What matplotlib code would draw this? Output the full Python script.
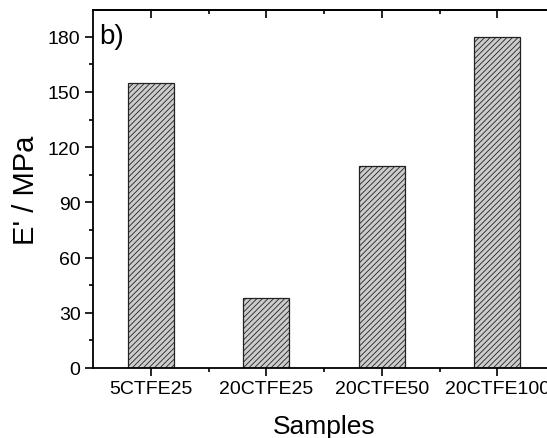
import matplotlib
matplotlib.use('Agg')
import matplotlib.pyplot as plt
from matplotlib.ticker import MultipleLocator

# data
samples = ['5CTFE25', '20CTFE25', '20CTFE50', '20CTFE100']
modulus = [155, 38, 110, 180]  # E' / MPa

plt.rcParams['font.family'] = ['Liberation Sans', 'DejaVu Sans']
plt.rcParams['hatch.linewidth'] = 0.6
plt.rcParams['hatch.color'] = '#333333'

fig = plt.figure(figsize=(5.47, 4.39), dpi=100)
ax = fig.add_axes([93 / 547, 70 / 439, 462 / 547, 358 / 439])

x = list(range(1, len(samples) + 1))
ax.bar(x, modulus, width=0.4, color='#cccccc', edgecolor='#222222',
       linewidth=0.9, hatch='//////')

ax.set_xlim(0.5, 4.5)
ax.set_ylim(0, 194.5)
ax.set_xticks(x)
ax.set_xticklabels(samples)
ax.set_xticks([1.5, 2.5, 3.5], minor=True)
ax.yaxis.set_major_locator(MultipleLocator(30))
ax.yaxis.set_minor_locator(MultipleLocator(15))

for s in ax.spines.values():
    s.set_linewidth(1.3)
ax.spines['right'].set_visible(False)

ax.tick_params(axis='both', which='major', direction='out', length=6, width=1.2,
               labelsize=14, pad=3)
ax.tick_params(axis='both', which='minor', direction='out', length=3, width=1.2)
ax.tick_params(axis='x', which='both', top=False)

# top ticks pointing inward
sec = ax.secondary_xaxis('top')
sec.set_xticks(x)
sec.set_xticks([1.5, 2.5, 3.5], minor=True)
sec.tick_params(which='major', direction='in', length=6, width=1.2, labeltop=False)
sec.tick_params(which='minor', direction='in', length=3, width=1.2)
sec.spines['top'].set_linewidth(1.3)

ax.set_xlabel('Samples', fontsize=19)
ax.set_ylabel("E' / MPa", fontsize=21)
ax.xaxis.set_label_coords(0.5, -46 / 358, transform=ax.transAxes)
ax.yaxis.set_label_coords(-53 / 462, 0.5, transform=ax.transAxes)
ax.text(0.013, 0.965, 'b)', transform=ax.transAxes, fontsize=20, va='top', ha='left')

fig.savefig('out.png', dpi=100)
